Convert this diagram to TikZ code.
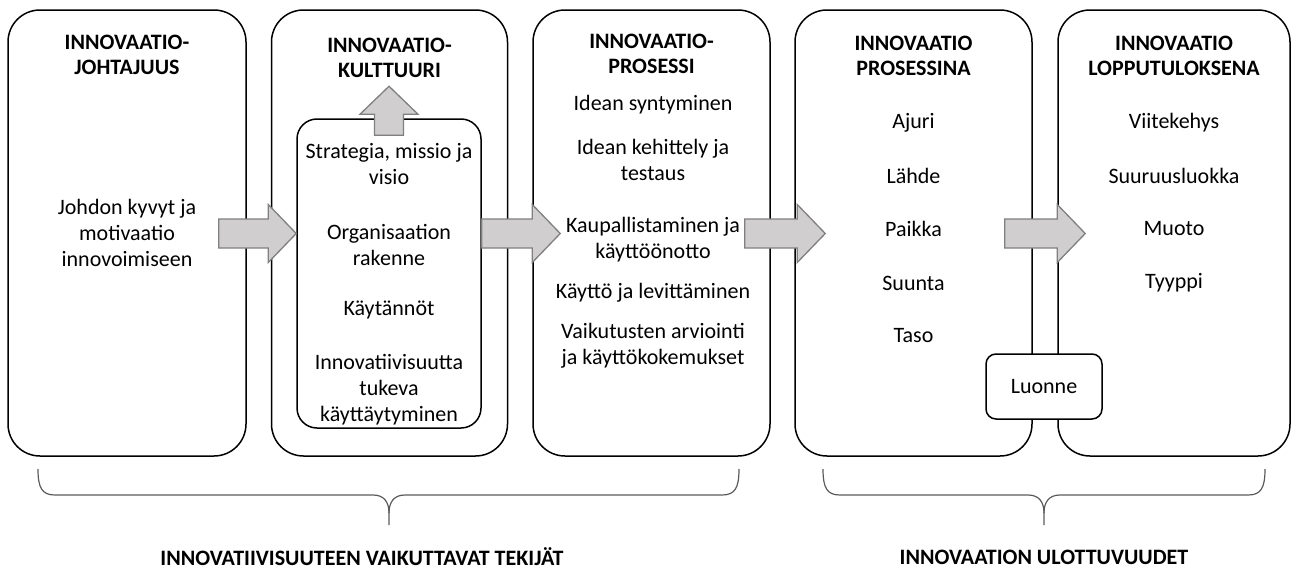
\documentclass[tikz,border=0pt]{standalone}
\usepackage{fontspec}
\setmainfont{Carlito}
\usetikzlibrary{calc, positioning}
\definecolor{arrowgray}{RGB}{208,206,206}
\definecolor{arrowedge}{RGB}{128,128,128}
\definecolor{bracegray}{RGB}{90,90,90}

% block arrow from #1 to #2 (tip at #2)
\newcommand{\blockarrow}[2]{%
  \path ($(#2)!28pt!(#1)$) coordinate (ah);
  \filldraw[blockarrow] ($(#1)!14.5pt!90:(#2)$) -- ($(ah)!14.5pt!90:(#2)$)
    -- ($(ah)!29pt!90:(#2)$) -- (#2) -- ($(ah)!29pt!-90:(#2)$)
    -- ($(ah)!14.5pt!-90:(#2)$) -- ($(#1)!14.5pt!-90:(#2)$) -- cycle;}

\begin{document}
\begin{tikzpicture}[x=1pt, y=-1pt,
  bigbox/.style={draw, rectangle, line width=1.5pt, rounded corners=32pt, minimum height=446pt},
  subbox/.style={draw, rectangle, fill=white, line width=1.5pt, rounded corners=20pt},
  title/.style={font=\fontsize{22}{25}\selectfont\bfseries, align=center},
  item/.style={font=\fontsize{22}{26}\selectfont, align=center},
  blockarrow/.style={fill=arrowgray, draw=arrowedge, line width=1.3pt},
  bracket/.style={draw=bracegray, line width=1.2pt},
  caption/.style={font=\fontsize{22}{26}\selectfont\bfseries, inner sep=1pt},
]
\useasboundingbox (0,0) rectangle (1291,570);

% Columns
\node[bigbox, minimum width=238pt] (johto) at (127,233) {};
\node[bigbox, minimum width=236pt] (kult) at (389.5,233) {};
\node[bigbox, minimum width=237pt] (proc) at (651.5,233) {};
\node[bigbox, minimum width=237pt] (prosessina) at (913.5,233) {};
\node[bigbox, minimum width=232pt] (tulos) at (1174,233) {};

% Inner box of the culture column
\node[subbox, minimum width=184pt, minimum height=309pt] (kultin) at (389,273.5) {};

% Titles
\node[title] (johto-t) at (127,54.5) {INNOVAATIO-\\JOHTAJUUS};
\node[title] (kult-t) at (389.5,58) {INNOVAATIO-\\KULTTUURI};
\node[title] (proc-t) at (651.5,54) {INNOVAATIO-\\PROSESSI};
\node[title] (prosessina-t) at (913.5,56) {INNOVAATIO\\PROSESSINA};
\node[title] (tulos-t) at (1174,56) {INNOVAATIO\\LOPPUTULOKSENA};

% Leadership
\node[item] (johto-1) at (127,233) {Johdon kyvyt ja\\motivaatio\\innovoimiseen};

% Culture
\node[item] (kult-1) at (389,164) {Strategia, missio ja\\visio};
\node[item] (kult-2) at (389,244.5) {Organisaation\\rakenne};
\node[item] (kult-3) at (389,310) {Käytännöt};
\node[item] (kult-4) at (389,390) {Innovatiivisuutta\\tukeva\\käyttäytyminen};

% Process
\node[item] (proc-1) at (653,105) {Idean syntyminen};
\node[item] (proc-2) at (653,160) {Idean kehittely ja\\testaus};
\node[item] (proc-3) at (653,239.5) {Kaupallistaminen ja\\käyttöönotto};
\node[item] (proc-4) at (653,293) {Käyttö ja levittäminen};
\node[item] (proc-5) at (653,345.5) {Vaikutusten arviointi\\ja käyttökokemukset};

% Innovation as a process
\node[item] (prosessina-1) at (913.5,123) {Ajuri};
\node[item] (prosessina-2) at (913.5,176) {Lähde};
\node[item] (prosessina-3) at (913.5,229) {Paikka};
\node[item] (prosessina-4) at (913.5,283) {Suunta};
\node[item] (prosessina-5) at (913.5,336) {Taso};

% Innovation as an outcome
\node[item] (tulos-1) at (1174,123) {Viitekehys};
\node[item] (tulos-2) at (1174,176) {Suuruusluokka};
\node[item] (tulos-3) at (1174,229) {Muoto};
\node[item] (tulos-4) at (1174,283) {Tyyppi};

% Shared box across the two last columns
\node[subbox, rounded corners=10pt, minimum width=116pt, minimum height=65pt, font=\fontsize{22}{26}\selectfont] (luonne) at (1044,386.5) {Luonne};

% Arrows
\coordinate (a1s) at ($(johto.east)+(-28,0.5)$);
\coordinate (a1e) at ($(kultin.west |- johto.east)+(0,0.5)$);
\coordinate (a2s) at ($(kultin.east |- johto.east)+(0,0.5)$);
\coordinate (a2e) at ($(proc.west)+(28,0.5)$);
\coordinate (a3s) at ($(proc.east)+(-26,0.5)$);
\coordinate (a3e) at ($(prosessina.west)+(31,0.5)$);
\coordinate (a4s) at ($(prosessina.east)+(-28,0.5)$);
\coordinate (a4e) at ($(tulos.west)+(28,0.5)$);
\coordinate (ups) at ($(kultin.north)+(0,17)$);
\coordinate (upe) at ($(kultin.north)+(0,-32)$);
\blockarrow{a1s}{a1e}
\blockarrow{a2s}{a2e}
\blockarrow{a3s}{a3e}
\blockarrow{a4s}{a4e}
\blockarrow{ups}{upe}

% Braces
\draw[bracket] (38,469) .. controls (38,488) and (42,495) .. (55,495) -- (373,495)
  .. controls (384,495) and (389,502) .. (389,513) -- (389,525);
\draw[bracket] (389,513) .. controls (389,502) and (394,495) .. (405,495) -- (722,495)
  .. controls (735,495) and (739,488) .. (739,469);
\draw[bracket] (823,469) .. controls (823,488) and (827,495) .. (840,495) -- (1028,495)
  .. controls (1039,495) and (1044,502) .. (1044,513) -- (1044,525);
\draw[bracket] (1044,513) .. controls (1044,502) and (1049,495) .. (1060,495) -- (1248,495)
  .. controls (1261,495) and (1265,488) .. (1265,469);

\node[caption] (cap-l) at (362,557) {INNOVATIIVISUUTEEN VAIKUTTAVAT TEKIJÄT};
\node[caption] (cap-r) at (1044,557) {INNOVAATION ULOTTUVUUDET};
\end{tikzpicture}
\end{document}
